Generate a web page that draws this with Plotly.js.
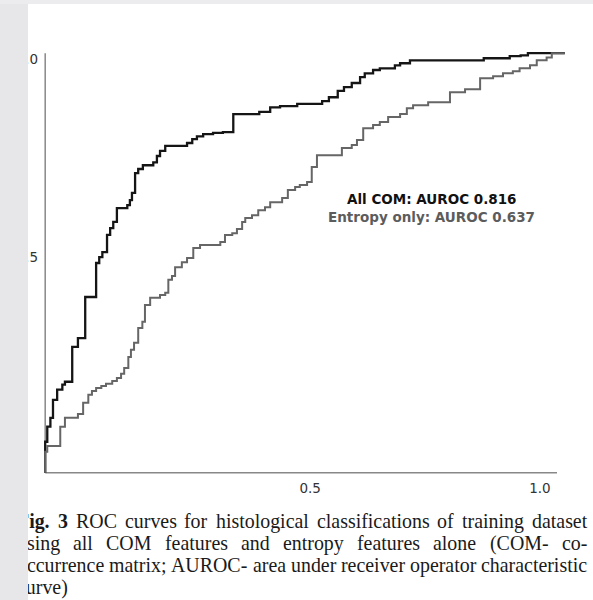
<!DOCTYPE html>
<html>
<head>
<meta charset="utf-8">
<script src="https://cdn.plot.ly/plotly-3.0.1.min.js"></script>
<style>html,body{margin:0;padding:0;background:#fff;}#chart{width:593px;height:600px;}</style>
</head>
<body>
<div id="chart"></div>
<script>
// ---- Data ----
const allComFPR = [0,0,0.004,0.010,0.015,0.023,0.033,0.038,0.052,0.063,0.077,0.098,0.104,0.110,0.119,0.125,0.131,0.138,0.158,0.163,0.167,0.173,0.179,0.188,0.208,0.215,0.221,0.231,0.273,0.283,0.292,0.304,0.323,0.342,0.362,0.412,0.433,0.452,0.485,0.533,0.546,0.563,0.575,0.590,0.606,0.615,0.631,0.644,0.673,0.683,0.702,0.844,0.894,0.915,0.929,1.0];
const allComTPR = [0,0.074,0.110,0.131,0.174,0.198,0.210,0.217,0.300,0.321,0.419,0.500,0.514,0.526,0.567,0.583,0.598,0.631,0.638,0.650,0.667,0.714,0.724,0.733,0.740,0.755,0.767,0.779,0.786,0.795,0.802,0.807,0.810,0.812,0.855,0.860,0.871,0.874,0.879,0.886,0.895,0.910,0.919,0.929,0.943,0.952,0.960,0.964,0.971,0.976,0.983,0.988,0.993,0.995,1.0,1.0];

const entropyFPR = [0,0,0.004,0.029,0.038,0.063,0.073,0.083,0.090,0.098,0.108,0.117,0.129,0.138,0.146,0.152,0.160,0.165,0.171,0.179,0.187,0.192,0.202,0.221,0.231,0.237,0.244,0.250,0.263,0.273,0.285,0.298,0.337,0.346,0.360,0.369,0.379,0.385,0.398,0.410,0.423,0.433,0.456,0.467,0.481,0.490,0.504,0.513,0.523,0.571,0.590,0.600,0.612,0.631,0.644,0.660,0.683,0.696,0.708,0.737,0.779,0.808,0.837,0.862,0.881,0.900,0.913,0.933,0.946,0.965,0.975,1.0];
const entropyTPR = [0,0.050,0.064,0.110,0.131,0.140,0.167,0.186,0.195,0.202,0.207,0.212,0.219,0.226,0.236,0.250,0.276,0.293,0.310,0.345,0.360,0.400,0.417,0.424,0.429,0.460,0.469,0.490,0.502,0.512,0.536,0.543,0.550,0.567,0.571,0.581,0.598,0.607,0.614,0.626,0.633,0.645,0.655,0.674,0.681,0.686,0.693,0.729,0.757,0.774,0.781,0.793,0.821,0.829,0.836,0.848,0.855,0.869,0.876,0.883,0.907,0.914,0.940,0.945,0.952,0.957,0.964,0.971,0.983,0.990,1.0,1.0];

const seriesLabels = ["All COM: AUROC 0.816", "Entropy only: AUROC 0.637"];
const xTickVals = [0.51, 0.952];
const xTickText = ["0.5", "1.0"];
const yTickVals = [0.514, 0.986];
const yTickText = ["0.5", "1.0"];

const captionLines = [
  "Fig. 3 ROC curves for histological classifications of training dataset",
  "using all COM features and entropy features alone (COM- co-",
  "occurrence matrix; AUROC- area under receiver operator characteristic",
  "curve)"
];
const captionBoldWords = ["Fig.", "3"];

// ---- Layout helpers ----
const W = 593, H = 600;
const M = {l: 40, r: 23, t: 49, b: 123};
const PW = W - M.l - M.r, PH = H - M.t - M.b;
const px2x = p => (p - M.l) / PW;
const py2y = p => (H - M.b - p) / PH;

const sansFont = 'DejaVu Sans, Liberation Sans, Arial';
const annotations = [
  {xref:'paper', yref:'paper', x:px2x(432), y:py2y(199), text:'<b>'+seriesLabels[0]+'</b>', showarrow:false,
   xanchor:'center', yanchor:'middle', font:{family:sansFont, size:13.5, color:'#111'}},
  {xref:'paper', yref:'paper', x:px2x(431), y:py2y(217), text:'<b>'+seriesLabels[1]+'</b>', showarrow:false,
   xanchor:'center', yanchor:'middle', font:{family:sansFont, size:13.5, color:'#5c5c5c'}}
];

// Caption, justified word by word
const cv = document.createElement('canvas').getContext('2d');
const serif = '"Liberation Serif"';
function wWidth(w, bold, s) { cv.font = (bold ? 'bold ' : '') + s + 'px ' + serif; return cv.measureText(w).width; }
const capLeft = 17, capRight = 587;
// fit the font so that every justified line fits with at least normal spacing
let capSize = 30;
captionLines.slice(0, 3).forEach((line, li) => {
  const words = line.split(' ');
  let nat = 0;
  words.forEach((w, i) => { nat += wWidth(w, li === 0 && captionBoldWords.includes(w), 100); if (i < words.length - 1) nat += wWidth(' ', false, 100) * 0.9; });
  capSize = Math.min(capSize, 100 * (capRight - capLeft) / nat);
});
capSize = Math.floor(capSize * 10) / 10;
const capY = [521, 543, 565, 587];
captionLines.forEach((line, li) => {
  const words = line.split(' ');
  const widths = words.map(w => wWidth(w, li === 0 && captionBoldWords.includes(w), capSize));
  const total = widths.reduce((a, b) => a + b, 0);
  const justify = li < captionLines.length - 1;
  const sp = wWidth(' ', false, capSize);
  const gap = justify ? (capRight - capLeft - total) / (words.length - 1) : sp;
  let x = capLeft;
  words.forEach((w, i) => {
    const bold = li === 0 && captionBoldWords.includes(w);
    annotations.push({xref:'paper', yref:'paper', x:px2x(x), y:py2y(capY[li]), xanchor:'left', yanchor:'middle',
      text: bold ? '<b>'+w+'</b>' : w, showarrow:false, borderpad:0, borderwidth:0,
      font:{family:'Liberation Serif, Times New Roman, serif', size:capSize, color:'#1a1a1a'}});
    x += widths[i] + gap;
  });
});
// cover strips of the cropped scan (drawn last so they sit on top)
annotations.push({xref:'paper', yref:'paper', x:px2x(0), y:py2y(0), xanchor:'left', yanchor:'top', text:' ',
  width:28, height:600, bgcolor:'#e7e7ea', borderpad:0, borderwidth:0, showarrow:false});
annotations.push({xref:'paper', yref:'paper', x:px2x(0), y:py2y(0), xanchor:'left', yanchor:'top', text:' ',
  width:593, height:4, bgcolor:'#ececee', borderpad:0, borderwidth:0, showarrow:false});

const traces = [
  {x: allComFPR, y: allComTPR, mode:'lines', line:{shape:'hv', color:'#151515', width:2.3}, name: seriesLabels[0], hoverinfo:'skip'},
  {x: entropyFPR, y: entropyTPR, mode:'lines', line:{shape:'hv', color:'#666666', width:2}, name: seriesLabels[1], hoverinfo:'skip'}
];

const shapes = [
  {type:'line', xref:'x', yref:'y', x0:0, x1:0, y0:0, y1:1, line:{color:'#888', width:1.5}, layer:'below'},
  {type:'line', xref:'x', yref:'y', x0:0, x1:0.985, y0:0, y1:0, line:{color:'#888', width:1.5}, layer:'below'}
];

const layout = {
  width: W, height: H,
  margin: M,
  paper_bgcolor:'#ffffff', plot_bgcolor:'#ffffff',
  showlegend:false,
  xaxis:{range:[-0.01,1.01], showgrid:false, zeroline:false, showline:false, ticks:'',
    tickvals:xTickVals, ticktext:xTickText, ticklabelstandoff:1,
    tickfont:{family:sansFont, size:13.5, color:'#333'}},
  yaxis:{range:[-0.01,1.01], showgrid:false, zeroline:false, showline:false, ticks:'',
    tickvals:yTickVals, ticktext:yTickText, ticklabelstandoff:1,
    tickfont:{family:sansFont, size:13.5, color:'#333'}},
  annotations: annotations,
  shapes: shapes
};

Plotly.newPlot('chart', traces, layout, {displayModeBar:false, staticPlot:true});
</script>
</body>
</html>
